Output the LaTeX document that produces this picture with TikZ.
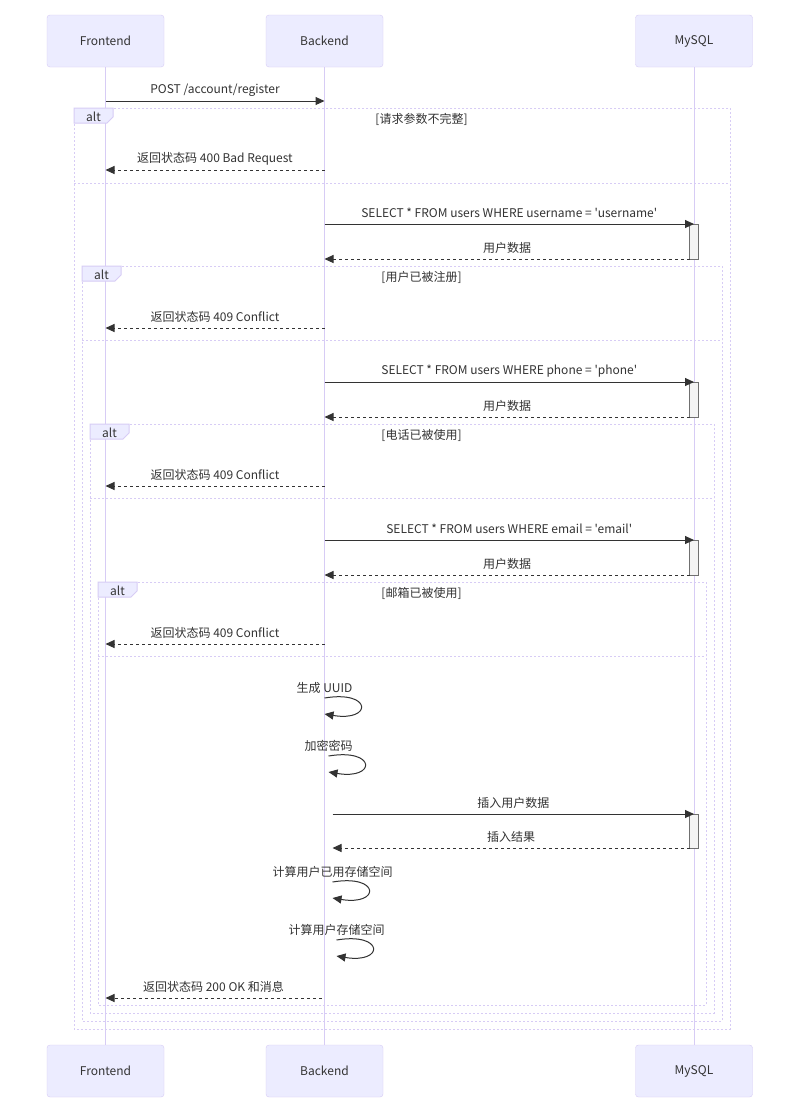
\documentclass[tikz,border=0pt]{standalone}
\usepackage{fontspec}
\setmainfont{Noto Sans CJK SC}[Ligatures=TeXOff]
\usetikzlibrary{arrows.meta,calc}
\definecolor{actfill}{HTML}{ECECFF}
\definecolor{actline}{HTML}{D7CCF5}
\definecolor{ink}{HTML}{333333}
\definecolor{barfill}{HTML}{F4F4F4}

\tikzset{
  actor/.style={draw=actline, fill=actfill, rounded corners=3pt, minimum width=117pt,
    minimum height=52pt, text=ink, inner sep=0pt},
  lifeline/.style={draw=actline, line width=1pt},
  frameline/.style={draw=actline, line width=1pt, dash pattern=on 2pt off 2pt},
  altbox/.style={draw=actline, fill=actfill, line width=1pt},
  msgsolid/.style={draw=ink, line width=1pt, -{Triangle[length=9pt,width=8pt]}},
  msgdash/.style={draw=ink, line width=1pt, dash pattern=on 3pt off 3pt, -{Triangle[length=9pt,width=8pt]}},
  msgtext/.style={text=ink, inner sep=0pt},
  actbar/.style={draw=ink!70, fill=barfill, line width=1pt},
}

% message: name, y, x from, x to, style, label
\newcommand\seqmsg[6]{%
  \coordinate (#1s) at (#3,#2);
  \coordinate (#1e) at (#4,#2);
  \draw[#5] (#1s) -- (#1e) node[msgtext, midway, yshift=11pt] (#1l) {#6};
}
% self call: name, x, y, label
\newcommand\selfmsg[4]{%
  \coordinate (#1s) at (#2,#3);
  \coordinate (#1e) at (#2,#3+16);
  \node[msgtext] (#1l) at (#2,#3-10) {#4};
  \draw[msgsolid] (#1s) .. controls ($(#1s)+(48,-8)$) and ($(#1s)+(48,24)$) .. (#1e);
}
% alt frame: name, x1, y1, x2, y2, separator y, condition
\newcommand\altframe[7]{%
  \draw[frameline] (#2,#3) rectangle (#4,#5);
  \draw[frameline] (#2,#6) -- (#4,#6);
  \draw[altbox] (#2,#3) -- (#2+39,#3) -- (#2+39,#3+9) -- (#2+33,#3+15) -- (#2,#3+15) -- cycle;
  \node[msgtext] (#1a) at (#2+19.5,#3+8.5) {alt};
  \node[msgtext] (#1c) at ({(#2+39+#4)/2},#3+11) {#7};
}

\begin{document}
\begin{tikzpicture}[x=1pt, y=-1pt, font=\fontsize{12}{14}\selectfont]
\useasboundingbox[fill=white] (0,0) rectangle (800,1120);

% participants
\node[actor] (feT) at (105.5,41) {Frontend};
\node[actor] (beT) at (324.5,41) {Backend};
\node[actor] (dbT) at (694,41) {MySQL};
\node[actor] (feB) at (105.5,1071) {Frontend};
\node[actor] (beB) at (324.5,1071) {Backend};
\node[actor] (dbB) at (694,1071) {MySQL};

% lifelines
\draw[lifeline] (feT.south) -- (feB.north);
\draw[lifeline] (beT.south) -- (beB.north);
\draw[lifeline] (dbT.south) -- (dbB.north);

% nested alt frames
\altframe{f1}{74}{108}{730}{1029}{183}{[请求参数不完整]}
\altframe{f2}{82}{266}{722}{1021}{340}{[用户已被注册]}
\altframe{f3}{90}{424}{714}{1013}{498}{[电话已被使用]}
\altframe{f4}{98}{582}{706}{1005}{656}{[邮箱已被使用]}

% activation bars on MySQL
\draw[actbar] (689.5,224) rectangle (698.5,259);
\draw[actbar] (689.5,382) rectangle (698.5,417);
\draw[actbar] (689.5,540) rectangle (698.5,575);
\draw[actbar] (689.5,814) rectangle (698.5,848);

% messages
\seqmsg{m1}{101}{105.5}{324.5}{msgsolid}{POST /account/register}
\seqmsg{m2}{170}{324.5}{105.5}{msgdash}{返回状态码 400 Bad Request}
\seqmsg{m3}{224}{324.5}{694}{msgsolid}{SELECT * FROM users WHERE username = 'username'}
\seqmsg{m4}{259}{689.5}{324.5}{msgdash}{用户数据}
\seqmsg{m5}{328}{324.5}{105.5}{msgdash}{返回状态码 409 Conflict}
\seqmsg{m6}{382}{324.5}{694}{msgsolid}{SELECT * FROM users WHERE phone = 'phone'}
\seqmsg{m7}{417}{689.5}{324.5}{msgdash}{用户数据}
\seqmsg{m8}{486}{324.5}{105.5}{msgdash}{返回状态码 409 Conflict}
\seqmsg{m9}{540}{324.5}{694}{msgsolid}{SELECT * FROM users WHERE email = 'email'}
\seqmsg{m10}{575}{689.5}{324.5}{msgdash}{用户数据}
\seqmsg{m11}{644}{324.5}{105.5}{msgdash}{返回状态码 409 Conflict}
\selfmsg{s1}{324.5}{698}{生成 UUID}
\selfmsg{s2}{328.5}{756}{加密密码}
\seqmsg{m12}{814}{332.5}{694}{msgsolid}{插入用户数据}
\seqmsg{m13}{848}{689.5}{332.5}{msgdash}{插入结果}
\selfmsg{s3}{332.5}{882}{计算用户已用存储空间}
\selfmsg{s4}{336.5}{940}{计算用户存储空间}
\seqmsg{m14}{998}{321.5}{105.5}{msgdash}{返回状态码 200 OK 和消息}
\end{tikzpicture}
\end{document}
